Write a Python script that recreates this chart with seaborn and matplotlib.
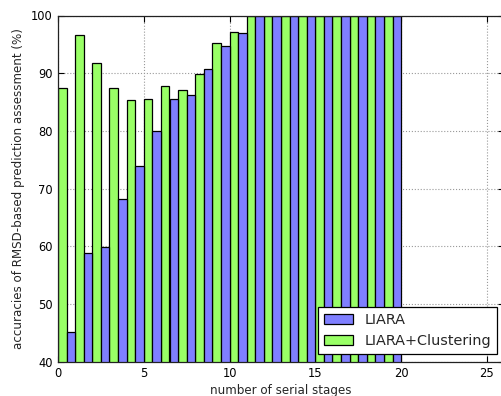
import numpy as np
import pandas as pd
import matplotlib
matplotlib.use("Agg")
import matplotlib.pyplot as plt
import seaborn as sns

# Accuracy (%) per serial stage for the two methods
stages = list(range(20))
liara = [45.2, 58.9, 59.8, 68.2, 74.0, 79.9, 85.6, 86.3, 90.8, 94.7,
         97.0, 100, 100, 100, 100, 100, 100, 100, 100, 100]
liara_clustering = [87.4, 96.7, 91.8, 87.5, 85.3, 85.5, 87.8, 87.1, 89.9, 95.2,
                    97.2, 100, 100, 100, 100, 100, 100, 100, 100, 100]
method_names = ["LIARA", "LIARA+Clustering"]
method_colors = {"LIARA": "#7f7fff", "LIARA+Clustering": "#99ff66"}
x_ticks = [0, 5, 10, 15, 20, 25]
y_ticks = [40, 50, 60, 70, 80, 90, 100]

df = pd.DataFrame({
    "stage": np.array(stages * 2, dtype=float) + 0.5,
    "accuracy": liara + liara_clustering,
    "method": [method_names[0]] * len(liara) + [method_names[1]] * len(liara_clustering),
})

sns.set_style("white")
plt.rcParams["font.family"] = ["DejaVu Sans"]

fig = plt.figure(figsize=(5.01, 3.96), dpi=100)
ax = fig.add_axes([58 / 501, 34.3 / 396, 446 / 501, 346.2 / 396])

sns.barplot(
    data=df, x="stage", y="accuracy", hue="method",
    hue_order=["LIARA+Clustering", "LIARA"], palette=method_colors,
    native_scale=True, width=1.0, gap=0, dodge=True, errorbar=None,
    saturation=1, edgecolor="black", linewidth=0.9, ax=ax, zorder=2,
)

ax.set_xlim(0, 26)
ax.set_ylim(40, 100)
ax.set_xticks(x_ticks)
ax.set_yticks(y_ticks)
ax.tick_params(axis="both", direction="in", length=4, width=0.8, pad=4,
               labelsize=8.3, colors="black", top=True, right=True,
               bottom=True, left=True)
ax.grid(True, linestyle=":", color="#999999", linewidth=0.8, zorder=0)
ax.set_axisbelow(True)
for side in ["top", "bottom", "left", "right"]:
    ax.spines[side].set_color("#222222")
    ax.spines[side].set_linewidth(0.9)

ax.set_xlabel("number of serial stages", fontsize=8.6, labelpad=3)
ax.set_ylabel("accuracies of RMSD-based prediction assessment (%)", fontsize=8.6, labelpad=4)

handles, labels = ax.get_legend_handles_labels()
order = [labels.index(m) for m in method_names]
leg = ax.legend([handles[i] for i in order], [labels[i] for i in order],
                loc="lower right", bbox_to_anchor=(497 / 501, 42 / 396),
                bbox_transform=fig.transFigure, borderaxespad=0,
                fontsize=10.4, fancybox=False, framealpha=1, edgecolor="black",
                title=None)
leg.get_frame().set_linewidth(0.9)

fig.savefig("out.png", dpi=100)
